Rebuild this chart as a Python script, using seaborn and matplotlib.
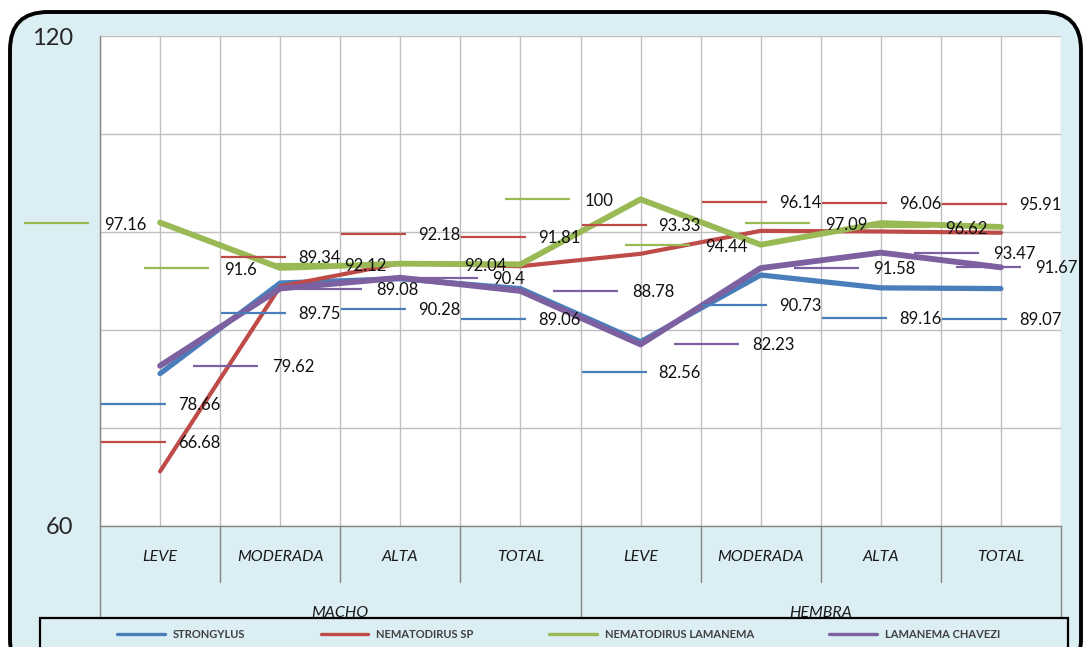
import numpy as np
import pandas as pd
import matplotlib
matplotlib.use("Agg")
import matplotlib.pyplot as plt
import matplotlib.transforms as mtransforms
from matplotlib.patches import FancyBboxPatch, Rectangle
from matplotlib.lines import Line2D
import seaborn as sns

# ---------------- data ----------------
categories = ["LEVE", "MODERADA", "ALTA", "TOTAL", "LEVE", "MODERADA", "ALTA", "TOTAL"]
groups = ["MACHO", "HEMBRA"]
series_names = ["STRONGYLUS", "NEMATODIRUS SP", "NEMATODIRUS LAMANEMA", "LAMANEMA CHAVEZI"]
strongylus = [78.66, 89.75, 90.28, 89.06, 82.56, 90.73, 89.16, 89.07]
nematodirus_sp = [66.68, 89.34, 92.18, 91.81, 93.33, 96.14, 96.06, 95.91]
nematodirus_lamanema = [97.16, 91.6, 92.12, 92.04, 100, 94.44, 97.09, 96.62]
lamanema_chavezi = [79.62, 89.08, 90.4, 88.78, 82.23, 91.58, 93.47, 91.67]
y_ticks = [60, 120]
y_grid = [72, 84, 96, 108]

series_values = [strongylus, nematodirus_sp, nematodirus_lamanema, lamanema_chavezi]

# ---------------- styles ----------------
colors = ["#4A7EBB", "#BE4B48", "#98B954", "#7D60A0"]
widths = [3.8, 3.0, 4.2, 4.2]
BG = "#DAEEF3"
GRID = "#BFBFBF"
W, H = 1084, 647

sns.set_style("white")
plt.rcParams["font.family"] = ["Lato", "DejaVu Sans"]

fig = plt.figure(figsize=(W / 100, H / 100), dpi=100)
fig.patch.set_facecolor("white")

# outer rounded background
bg = FancyBboxPatch((10 / W, -30 / H), 1071 / W, (H - 12 + 30) / H,
                    boxstyle="round,pad=0,rounding_size=0.035",
                    transform=fig.transFigure, facecolor=BG, edgecolor="black",
                    linewidth=2.8, zorder=-10, mutation_aspect=W / H)
fig.patches.append(bg)

ax = fig.add_axes([100 / W, 1 - 526 / H, 961 / W, 490 / H])
ax.set_facecolor("white")

df = pd.DataFrame({
    "pos": np.tile(np.arange(len(categories)), len(series_names)),
    "value": np.concatenate(series_values),
    "series": np.repeat(series_names, len(categories)),
})

for name, col, lw in zip(series_names, colors, widths):
    sub = df[df["series"] == name]
    sns.lineplot(data=sub, x="pos", y="value", color=col, linewidth=lw,
                 ax=ax, legend=False, solid_joinstyle="round", solid_capstyle="round",
                 zorder=3)

ax.set_xlim(-0.5, len(categories) - 0.5)
ax.set_ylim(y_ticks[0], y_ticks[-1])
ax.set_xlabel("")
ax.set_ylabel("")

# grid
ax.set_xticks(np.arange(-0.5, len(categories), 0.5))
ax.set_xticklabels([])
ax.tick_params(axis="x", length=0)
ax.set_yticks(y_ticks)
ax.set_yticklabels([str(t) for t in y_ticks], fontsize=17, color="#262626")
ax.set_yticks(y_grid, minor=True)
ax.tick_params(axis="y", which="major", length=10, color="#868686", width=1, pad=9)
ax.tick_params(axis="y", which="minor", length=0)
ax.grid(True, axis="x", which="major", color=GRID, linewidth=1, zorder=0)
ax.grid(True, axis="y", which="both", color=GRID, linewidth=1, zorder=0)
for s in ["top", "right"]:
    ax.spines[s].set_visible(False)
for s in ["left", "bottom"]:
    ax.spines[s].set_color("#868686")
    ax.spines[s].set_linewidth(1)

# ---------------- data labels with legend keys ----------------
dpi = fig.dpi
key_len_pt = 65 * 72 / dpi
# offsets in pixels: (key centre dx, key dy, text dx, text dy)
label_style = [
    (-27, -30, 18, -31),   # strongylus: below
    (-27, 29, 18, 28),     # nematodirus sp: above
    (-104, 0, -56, -2),    # lamanema: left
    (65, 0, 112, -1),      # chavezi: right
]
extra_dx = {(3, 1): -16, (3, 2): -20, (3, 7): -78}

for si, (vals, col) in enumerate(zip(series_values, colors)):
    kdx, kdy, tdx, tdy = label_style[si]
    for i, v in enumerate(vals):
        sh = extra_dx.get((si, i), 0)
        tk = ax.transData + mtransforms.ScaledTranslation((kdx + sh) / dpi, kdy / dpi, fig.dpi_scale_trans)
        ax.plot([i], [v], marker="_", markersize=key_len_pt, markeredgewidth=1.6,
                color=col, transform=tk, clip_on=False, zorder=4)
        tt = ax.transData + mtransforms.ScaledTranslation((tdx + sh) / dpi, tdy / dpi, fig.dpi_scale_trans)
        ax.text(i, v, f"{v:g}", transform=tt, fontsize=12, color="#111111",
                ha="left", va="center", zorder=5, clip_on=False)

# ---------------- category axis (two levels) ----------------
blend = mtransforms.blended_transform_factory(ax.transData, ax.transAxes)
ax_h = 490.0
def ay(py):
    return (526 - py) / ax_h

for i, c in enumerate(categories):
    ax.text(i, ay(557), c, transform=blend, ha="center", va="center",
            fontsize=11.5, style="italic", color="#1a1a1a", clip_on=False)
for b in np.arange(-0.5, len(categories), 1.0):
    is_group = b in (-0.5, 3.5, len(categories) - 0.5)
    y_end = ay(640) if is_group else ay(582)
    ax.plot([b, b], [0, y_end], transform=blend, color="#868686", linewidth=1,
            clip_on=False, zorder=1)
n_per = len(categories) // len(groups)
for gi, g in enumerate(groups):
    cx = gi * n_per + (n_per - 1) / 2
    ax.text(cx, ay(613), g, transform=blend, ha="center", va="center",
            fontsize=11.5, style="italic", color="#1a1a1a", clip_on=False)

# ---------------- legend ----------------
leg_rect = Rectangle((40 / W, -40 / H), 1028 / W, (H - 618 + 40) / H,
                     transform=fig.transFigure, facecolor=BG, edgecolor="black",
                     linewidth=1.6, zorder=5)
fig.patches.append(leg_rect)
handles = [Line2D([0], [0], color=c, linewidth=2.4) for c in colors]
leg = fig.legend(handles, series_names, loc="center left",
                 bbox_to_anchor=(117 / W, 1 - 634 / H), ncol=4, frameon=False,
                 fontsize=8, handlelength=4.3, handletextpad=0.7,
                 columnspacing=6.8, borderpad=0, borderaxespad=0)
leg.set_zorder(6)
for t in leg.get_texts():
    t.set_color("#404040")
    t.set_fontweight("bold")

fig.savefig("out.png", dpi=100)
